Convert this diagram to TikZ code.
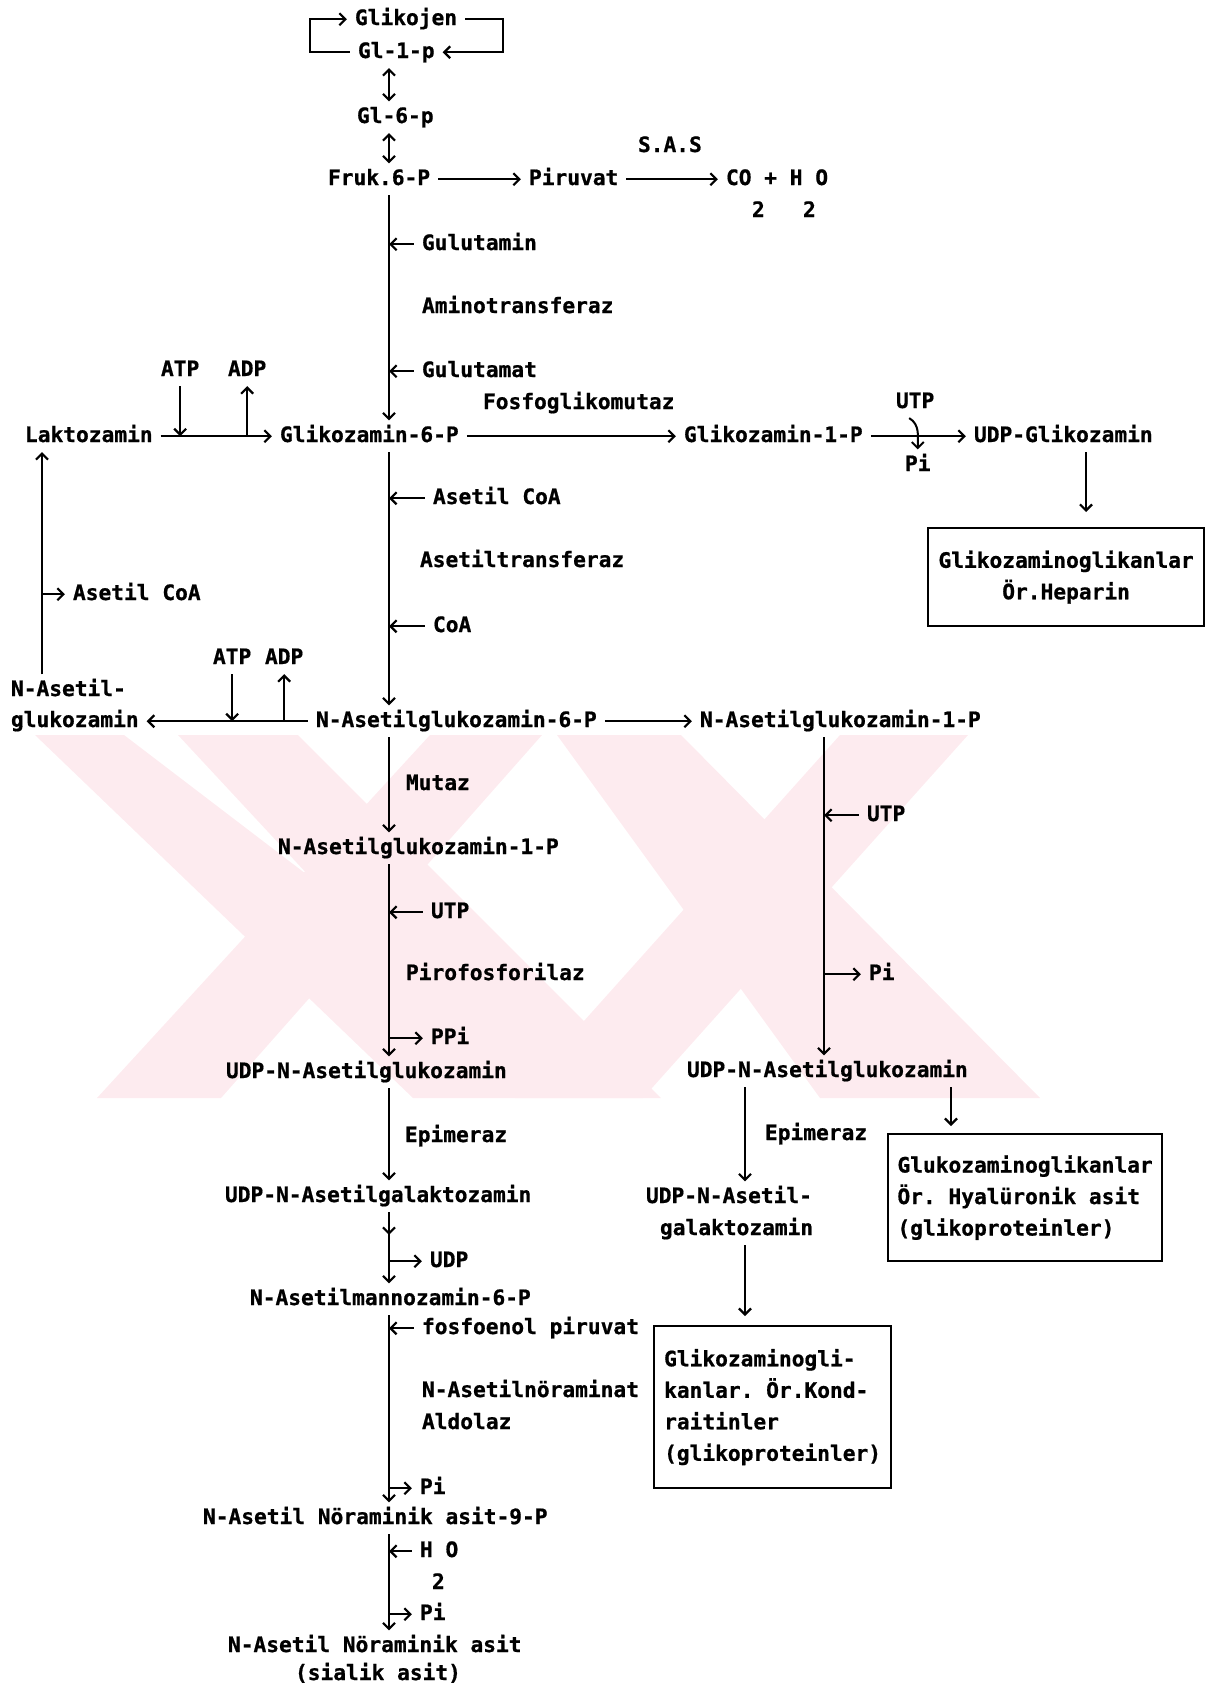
\documentclass[tikz,border=0pt]{standalone}
\usepackage{fontspec}
\setmonofont[BoldFeatures={FakeBold=0.8}]{DejaVu Sans Mono}
\usetikzlibrary{arrows.meta, calc, decorations.markings}
\definecolor{filigran}{RGB}{253,235,239}
\newcommand{\yazi}{\fontsize{21.2}{31.5}\selectfont\ttfamily\bfseries}

\begin{document}
\begin{tikzpicture}[x=1pt, y=-1pt, line width=2.2pt,
    >={Straight Barb[length=6pt,width=12pt]},
    etiket/.style={font=\yazi, anchor=text, inner xsep=7pt, inner ysep=5pt,
        text height=15.5pt, text depth=4pt},
    kutu/.style={draw, line width=2.2pt, font=\yazi, anchor=north west, inner sep=0pt},
    ortaok/.style={postaction={decorate}, decoration={markings,
        mark=at position 0.32 with {\arrow{>}}}}]
    \useasboundingbox (0,0) rectangle (1214,1689);

    % filigran
    \fill[filigran] (35,735) -- (124,735) -- (310,877) -- (178,735) -- (298,735)
        -- (661,1098) -- (413,1098) -- cycle;
    \fill[filigran] (430,735) -- (542,735) -- (221,1098) -- (97,1098) -- cycle;
    \fill[filigran] (557,735) -- (681,735) -- (1040,1098) -- (820,1098) -- cycle;
    \fill[filigran] (840,735) -- (968,735) -- (643,1098) -- (515,1098) -- cycle;

    \coordinate (ana) at (389,0);
    \coordinate (sag) at (824,0);
    \coordinate (sag2) at (745,0);
    \coordinate (sol) at (42,0);
    \coordinate (h1) at (1086,0);
    \coordinate (h2) at (951,0);

    % ust kisim
    \node[etiket] (glikojen) at (355,25) {Glikojen};
    \node[etiket] (gl1p) at (358,58) {Gl-1-p};
    \node[etiket] (gl6p) at (357,123) {Gl-6-p};
    \node[etiket] (fruk) at (328,185) {Fruk.6-P};
    \node[etiket] (piruvat) at (529,185) {Piruvat};
    \node[etiket] (sas) at (638,152) {S.A.S};
    \node[etiket] (co2) at (726,185) {CO + H O};
    \node[etiket] (alt1) at (752,217) {2~~~2};

    \draw[->] (gl1p.west) -- ++(-40,0) |- (glikojen.west);
    \draw[->] (glikojen.east) -- ++(38,0) |- (gl1p.east);
    \draw[<->] (gl1p.south -| ana) -- (gl6p.north -| ana);
    \draw[<->] (gl6p.south -| ana) -- (fruk.north -| ana);
    \draw[->] (fruk) -- (piruvat);
    \draw[->] (piruvat) -- (co2);

    \node[etiket] (gulutamin) at (422,250) {Gulutamin};
    \node[etiket] (aminotr) at (422,313) {Aminotransferaz};
    \node[etiket] (gulutamat) at (422,377) {Gulutamat};
    \node[etiket] (fosfo) at (483,409) {Fosfoglikomutaz};
    \node[etiket] (atp1) at (161,376) {ATP};
    \node[etiket] (adp1) at (228,376) {ADP};

    % glikozamin satiri
    \node[etiket] (laktozamin) at (25,442) {Laktozamin};
    \node[etiket] (glik6p) at (280,442) {Glikozamin-6-P};
    \node[etiket] (glik1p) at (684,442) {Glikozamin-1-P};
    \node[etiket] (utp1) at (896,408) {UTP};
    \node[etiket] (pi1) at (905,471) {Pi};
    \node[etiket] (udpglik) at (974,442) {UDP-Glikozamin};
    \node[kutu, minimum width=276pt, minimum height=98pt, align=center] (kutu1)
        at (927,527) {Glikozaminoglikanlar\\Ör.Heparin};

    \draw[->] (fruk.south -| ana) -- (glik6p.north -| ana);
    \draw[->] (laktozamin) -- (glik6p);
    \draw[->] (atp1.south) -- (atp1.south |- laktozamin);
    \draw[->] (adp1.south |- laktozamin) -- (adp1.south);
    \draw[->] (glik6p) -- (glik1p);
    \draw[->] (glik1p) -- (udpglik);
    \draw[->, line width=2pt] ($(utp1.south)+(-6,0)$) to[out=-30, in=90] (pi1.north);
    \draw[->, shorten >=15pt] (udpglik.south -| h1) -- (kutu1.north -| h1);

    \node[etiket] (asetilcoa) at (433,504) {Asetil CoA};
    \node[etiket] (asetiltr) at (420,567) {Asetiltransferaz};
    \node[etiket] (coa) at (433,632) {CoA};
    \node[etiket] (asetilcoa2) at (73,600) {Asetil CoA};
    \node[etiket] (atp2) at (213,664) {ATP};
    \node[etiket] (adp2) at (265,664) {ADP};

    % N-asetil satiri
    \node[etiket] (nasetil) at (11,696) {N-Asetil-};
    \node[etiket] (glukozamin) at (11,727) {glukozamin};
    \node[etiket] (nag6p) at (316,727) {N-Asetilglukozamin-6-P};
    \node[etiket] (nag1pR) at (700,727) {N-Asetilglukozamin-1-P};

    \draw[->] (glik6p.south -| ana) -- (nag6p.north -| ana);
    \draw[->] (nasetil.north -| sol) -- (laktozamin.south -| sol);
    \draw[->] (asetilcoa2.west -| sol) -- (asetilcoa2.west);
    \draw[->] (nag6p) -- (glukozamin);
    \draw[->] (atp2.south) -- (atp2.south |- nag6p);
    \draw[->] (adp2.south |- nag6p) -- (adp2.south);
    \draw[->] (nag6p) -- (nag1pR);

    \node[etiket] (mutaz) at (406,790) {Mutaz};
    \node[etiket] (nag1p) at (278,854) {N-Asetilglukozamin-1-P};
    \node[etiket] (utp2) at (431,918) {UTP};
    \node[etiket] (pirofos) at (406,980) {Pirofosforilaz};
    \node[etiket] (ppi) at (431,1044) {PPi};
    \node[etiket] (udpnag) at (226,1078) {UDP-N-Asetilglukozamin};
    \node[etiket] (utp3) at (867,821) {UTP};
    \node[etiket] (pi2) at (869,980) {Pi};
    \node[etiket] (udpnagR) at (687,1077) {UDP-N-Asetilglukozamin};

    \draw[->] (nag6p.south -| ana) -- (nag1p.north -| ana);
    \draw[->] (nag1p.south -| ana) -- (udpnag.north -| ana);
    \draw[->] (nag1pR.south -| sag) -- (udpnagR.north -| sag);
    \draw[->] (utp3.west) -- (utp3.west -| sag);
    \draw[->] (pi2.west -| sag) -- (pi2.west);

    % epimeraz ve kutular
    \node[etiket] (epim1) at (405,1142) {Epimeraz};
    \node[etiket] (epim2) at (765,1140) {Epimeraz};
    \node[kutu, minimum width=274pt, minimum height=127pt, align=left] (kutu2)
        at (887,1133) {Glukozaminoglikanlar\\Ör. Hyalüronik asit\\(glikoproteinler)};
    \node[etiket] (udpnagal) at (225,1202) {UDP-N-Asetilgalaktozamin};
    \node[etiket] (udpnagalR1) at (646,1203) {UDP-N-Asetil-};
    \node[etiket] (udpnagalR2) at (660,1235) {galaktozamin};
    \node[etiket] (udp) at (430,1267) {UDP};
    \node[etiket] (nam6p) at (250,1305) {N-Asetilmannozamin-6-P};
    \node[kutu, minimum width=237pt, minimum height=162pt, align=left] (kutu3)
        at (653,1325) {Glikozaminogli-\\kanlar. Ör.Kond-\\raitinler\\(glikoproteinler)};

    \draw[->, shorten >=7pt] (udpnagR.south -| h2) -- (kutu2.north -| h2);
    \draw[->] (udpnagR.south -| sag2) -- (udpnagalR1.north -| sag2);
    \draw[->, shorten >=9pt] (udpnagalR2.south -| sag2) -- (kutu3.north -| sag2);
    \draw[->] (udpnag.south -| ana) -- (udpnagal.north -| ana);
    \draw[->, ortaok] (udpnagal.south -| ana) -- (nam6p.north -| ana);

    % sialik asit
    \node[etiket] (fosfoenol) at (422,1334) {fosfoenol piruvat};
    \node[etiket] (nanat) at (422,1397) {N-Asetilnöraminat};
    \node[etiket] (aldolaz) at (422,1429) {Aldolaz};
    \node[etiket] (pi3) at (420,1494) {Pi};
    \node[etiket] (nana9p) at (203,1524) {N-Asetil Nöraminik asit-9-P};
    \node[etiket] (h2o) at (420,1557) {H O};
    \node[etiket] (alt2) at (432,1589) {2};
    \node[etiket] (pi4) at (420,1620) {Pi};
    \node[etiket] (nana) at (228,1652) {N-Asetil Nöraminik asit};
    \node[etiket] (sialik) at (295,1680) {(sialik asit)};

    \draw[->] (nam6p.south -| ana) -- (nana9p.north -| ana);
    \draw[->] (nana9p.south -| ana) -- (nana.north -| ana);

    \foreach \n in {gulutamin, gulutamat, asetilcoa, coa, utp2, fosfoenol, h2o}
        \draw[->] (\n.west) -- (\n.west -| ana);
    \foreach \n in {ppi, udp, pi3, pi4}
        \draw[->] (\n.west -| ana) -- (\n.west);
\end{tikzpicture}
\end{document}
